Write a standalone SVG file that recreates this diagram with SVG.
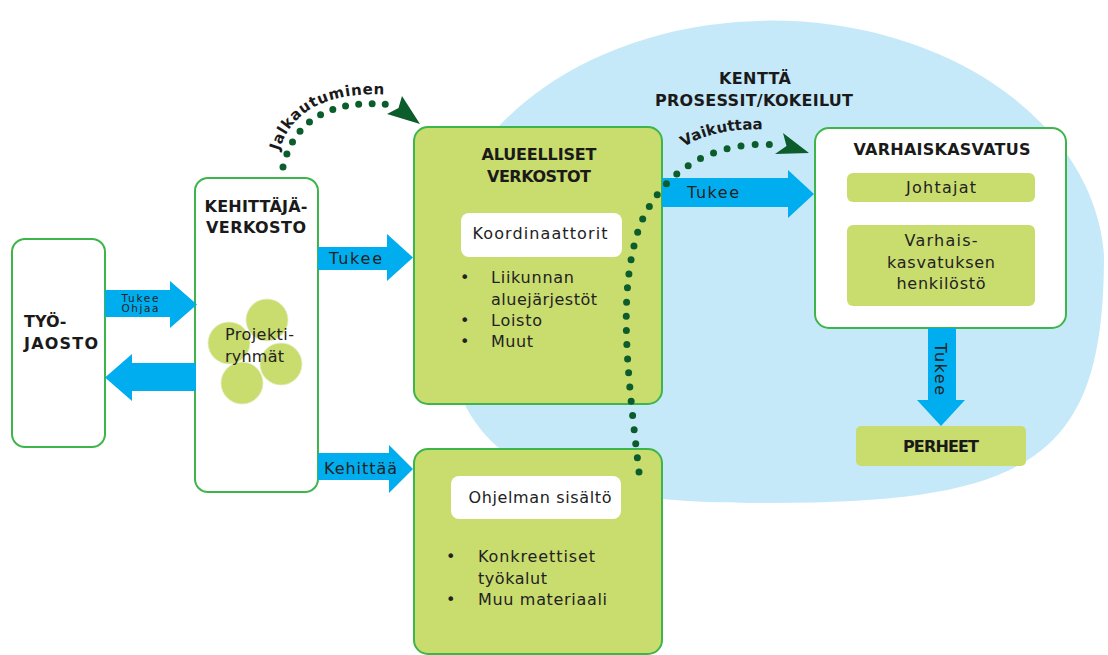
<svg xmlns="http://www.w3.org/2000/svg" width="1108" height="655" viewBox="0 0 1108 655">
<style>
.t{font-family:"DejaVu Sans",sans-serif;font-size:16px;fill:#222}
.b{font-weight:bold;fill:#1a1a1a}
.m{text-anchor:middle}
.box{fill:#fff;stroke:#3db54a;stroke-width:2}
.gbox{fill:#c9dc6e;stroke:#3db54a;stroke-width:2}
.inner{fill:#c9dc6e}
.wbox{fill:#fff}
.arrow{fill:#00aeef}
.dots{fill:none;stroke:#0c5d2c;stroke-width:7;stroke-linecap:round}
.head{fill:#0c5d2c}
.circ{fill:#c9dc6e;stroke:#e4eec4;stroke-width:0.8}
</style>
<rect width="1108" height="655" fill="#fff"/>
<g id="kentta">
<path d="M 439 255 A 333 248 0 0 1 1104 255 C 1104 453 1038 503 772 503 C 506 503 439 453 439 255 Z" fill="#c6e9fa"/>
<text class="t b m" x="755" y="84" textLength="72">KENTTÄ</text>
<text class="t b m" x="754" y="106" textLength="198">PROSESSIT/KOKEILUT</text>
</g>
<g id="tyojaosto">
<rect class="box" x="12" y="239" width="93" height="208" rx="13"/>
<text class="t b" x="24" y="327">TYÖ-</text>
<text class="t b" x="24" y="349" textLength="74">JAOSTO</text>
</g>
<g id="kehittajaverkosto">
<rect class="box" x="195" y="178" width="123" height="314" rx="13"/>
<text class="t b m" x="256" y="212" textLength="103">KEHITTÄJÄ-</text>
<text class="t b m" x="256" y="233" textLength="100">VERKOSTO</text>
<circle class="circ" cx="267" cy="320" r="21"/>
<circle class="circ" cx="229" cy="343" r="21"/>
<circle class="circ" cx="281" cy="364" r="21"/>
<circle class="circ" cx="242" cy="383" r="21"/>
<text class="t" x="225" y="340" textLength="69">Projekti-</text>
<text class="t" x="225" y="362" textLength="59">ryhmät</text>
</g>
<g id="alueelliset">
<rect class="gbox" x="414" y="127" width="248" height="277" rx="14"/>
<text class="t b m" x="539" y="160" textLength="115">ALUEELLISET</text>
<text class="t b m" x="539" y="182" textLength="104">VERKOSTOT</text>
<rect class="wbox" x="461" y="213" width="161" height="44" rx="8"/>
<text class="t m" x="540" y="239" textLength="135">Koordinaattorit</text>
<text class="t" x="460" y="283">•</text>
<text class="t" x="491" y="283" textLength="83">Liikunnan</text>
<text class="t" x="491" y="305" textLength="106">aluejärjestöt</text>
<text class="t" x="460" y="326">•</text>
<text class="t" x="491" y="326" textLength="51">Loisto</text>
<text class="t" x="460" y="347">•</text>
<text class="t" x="491" y="347" textLength="42">Muut</text>
</g>
<g id="ohjelma">
<rect class="gbox" x="414" y="449" width="248" height="205" rx="14"/>
<rect class="wbox" x="451" y="476" width="170" height="43" rx="8"/>
<text class="t m" x="540" y="503" textLength="143">Ohjelman sisältö</text>
<text class="t" x="446" y="562">•</text>
<text class="t" x="478" y="562" textLength="117">Konkreettiset</text>
<text class="t" x="478" y="584" textLength="69">työkalut</text>
<text class="t" x="446" y="605">•</text>
<text class="t" x="478" y="605" textLength="129">Muu materiaali</text>
</g>
<g id="varhaiskasvatus">
<rect class="box" x="815" y="128" width="251" height="200" rx="14"/>
<text class="t b m" x="942" y="155" textLength="177">VARHAISKASVATUS</text>
<rect class="inner" x="847" y="173" width="188" height="29" rx="6"/>
<text class="t m" x="941" y="193" textLength="70">Johtajat</text>
<rect class="inner" x="847" y="225" width="188" height="81" rx="6"/>
<text class="t m" x="941" y="246" textLength="73">Varhais-</text>
<text class="t m" x="941" y="268" textLength="108">kasvatuksen</text>
<text class="t m" x="941" y="289" textLength="89">henkilöstö</text>
</g>
<g id="perheet">
<rect class="inner" x="856" y="426" width="170" height="40" rx="5"/>
<text class="t b m" x="941" y="452" textLength="76">PERHEET</text>
</g>
<g id="connectors">
<polygon class="arrow" points="105,290 170,290 170,281 197,304.5 170,328 170,317 105,317"/>
<text class="t m" x="140" y="302" style="font-size:10.5px" textLength="37">Tukee</text>
<text class="t m" x="140" y="312" style="font-size:10.5px" textLength="37">Ohjaa</text>
<polygon class="arrow" points="196,363 132,363 132,354 105,377.5 132,401 132,391 196,391"/>
<polygon class="arrow" points="318,247 387,247 387,234 413,257.5 387,281 387,270 318,270"/>
<text class="t" x="329" y="264" textLength="53">Tukee</text>
<polygon class="arrow" points="318,453 389,453 389,445 413,469 389,493 389,480 318,480"/>
<text class="t" x="324" y="474" textLength="73">Kehittää</text>
<polygon class="arrow" points="662,178 788,178 788,170 814,194 788,218 788,207 662,207"/>
<text class="t" x="687" y="198" textLength="52">Tukee</text>
<polygon class="arrow" points="928,328 956,328 956,400 965,400 941,426 917,400 928,400"/>
<text class="t m" transform="translate(935,369) rotate(90)" x="0" y="0" textLength="52">Tukee</text>
<path class="dots" d="M 283 167 Q 300 95 393 105" stroke-dasharray="0 13.3"/>
<polygon class="head" points="402,96 420,124 387,114 398.5,108"/>
<path id="jpath" d="M 279 151 Q 298 88 394 95" fill="none"/>
<text class="t b" style="font-size:15px"><textPath href="#jpath" textLength="130">Jalkautuminen</textPath></text>
<path class="dots" d="M 639 472 C 626 360 618 290 640 225 C 665 165 720 140 778 145" stroke-dasharray="0 14.2"/>
<polygon class="head" points="783,133 809,153 775,154 786.5,146"/>
<path id="vpath" d="M 684 147 Q 717 126 774 130" fill="none"/>
<text class="t b" style="font-size:15px"><textPath href="#vpath" textLength="82">Vaikuttaa</textPath></text>
</g>
</svg>
